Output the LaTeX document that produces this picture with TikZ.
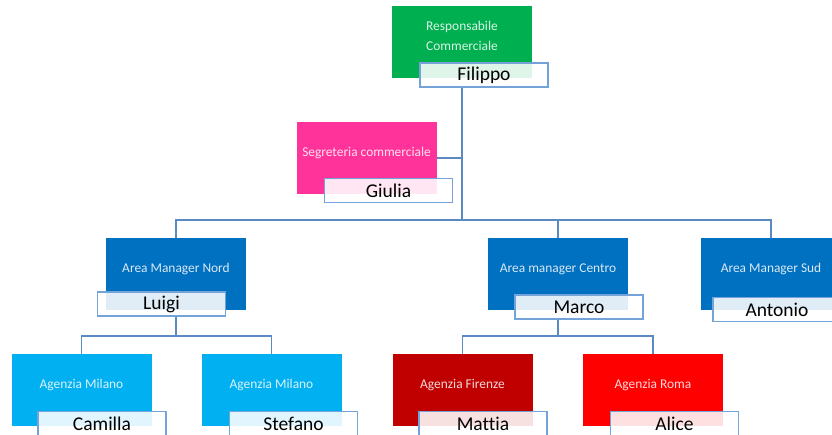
\documentclass[tikz,border=0pt]{standalone}
\usepackage{fontspec}
\setmainfont{Carlito}[RawFeature={-liga;-clig;-calt;-dlig}]
\usepackage{tikz}
\usetikzlibrary{arrows.meta, positioning, calc}

\definecolor{verde}{HTML}{00B050}
\definecolor{rosa}{HTML}{FF3399}
\definecolor{blu}{HTML}{0070C0}
\definecolor{azzurro}{HTML}{00B0F0}
\definecolor{rossoscuro}{HTML}{C00000}
\definecolor{rosso}{HTML}{FF0000}
\definecolor{linea}{HTML}{5B8AC3}
\definecolor{bordo}{HTML}{74A3DA}

\begin{document}
\begin{tikzpicture}[
    x=1pt, y=-1pt,
    box/.style={rectangle, minimum width=140pt, minimum height=72pt, inner sep=0pt}, % 彩色职位框
    ttl/.style={text=white, text opacity=0.85, font=\fontsize{13.4}{20}\selectfont, align=center}, % 职位文字
    tag/.style={rectangle, draw=bordo, line width=1.3pt, fill=white, fill opacity=0.88, text opacity=1,
                minimum width=128pt, minimum height=24pt, inner sep=0pt, font=\fontsize{19.5}{19.5}\selectfont}, % 姓名标签
    conn/.style={draw=linea, line width=1.5pt} % 连线
]
    % 画布范围
    \useasboundingbox (0,0) rectangle (832,434);
    \clip (0,0) rectangle (832,434);

    % 1. 彩色职位框
    \node[box, fill=verde, label={[ttl, yshift=6pt]center:Responsabile\\Commerciale}] (resp) at (462,42) {};
    \node[box, fill=rosa, label={[ttl, yshift=5pt]center:Segreteria commerciale}] (segr) at (366.5,158) {};
    \node[box, fill=blu, label={[ttl, yshift=5pt]center:Area Manager Nord}] (nord) at (176,274) {};
    \node[box, fill=blu, label={[ttl, yshift=5pt]center:Area manager Centro}] (centro) at (558,274) {};
    \node[box, fill=blu, label={[ttl, yshift=5pt]center:Area Manager Sud}] (sud) at (771,274) {};
    \node[box, fill=azzurro, label={[ttl, yshift=5pt]center:Agenzia Milano}] (mil1) at (81.5,390) {};
    \node[box, fill=azzurro, label={[ttl, yshift=5pt]center:Agenzia Milano}] (mil2) at (271.5,390) {};
    \node[box, fill=rossoscuro, label={[ttl, yshift=5pt]center:Agenzia Firenze}] (fir) at (462.5,390) {};
    \node[box, fill=rosso, label={[ttl, yshift=5pt]center:Agenzia Roma}] (roma) at (653,390) {};

    % 2. 姓名标签(半透明白底)
    \node[tag] (resp-n) at (484,75) {Filippo};
    \node[tag] (segr-n) at (388.5,190.5) {Giulia};
    \node[tag] (nord-n) at (161.5,304) {Luigi};
    \node[tag] (centro-n) at (579,307) {Marco};
    \node[tag] (sud-n) at (777,309.5) {Antonio};
    \node[tag] (mil1-n) at (102,423.5) {Camilla};
    \node[tag] (mil2-n) at (293.5,423.5) {Stefano};
    \node[tag] (fir-n) at (483,423.5) {Mattia};
    \node[tag] (roma-n) at (674.5,423.5) {Alice};

    % 3. 连线
    \coordinate (bus1) at (462,220);
    \coordinate (busN) at (176,336);
    \coordinate (busC) at (558,336);
    \draw[conn] (resp.center |- resp-n.south) -- (bus1);
    \draw[conn] (segr.east) -- (segr.east -| bus1);
    \foreach \b in {nord, centro, sud} {
        \draw[conn] (\b.north) |- (bus1);
    }
    \draw[conn] (nord.center |- nord-n.south) -- (busN);
    \foreach \b in {mil1, mil2} {
        \draw[conn] (\b.north) |- (busN);
    }
    \draw[conn] (centro.center |- centro-n.south) -- (busC);
    \foreach \b in {fir, roma} {
        \draw[conn] (\b.north) |- (busC);
    }

\end{tikzpicture}
\end{document}
